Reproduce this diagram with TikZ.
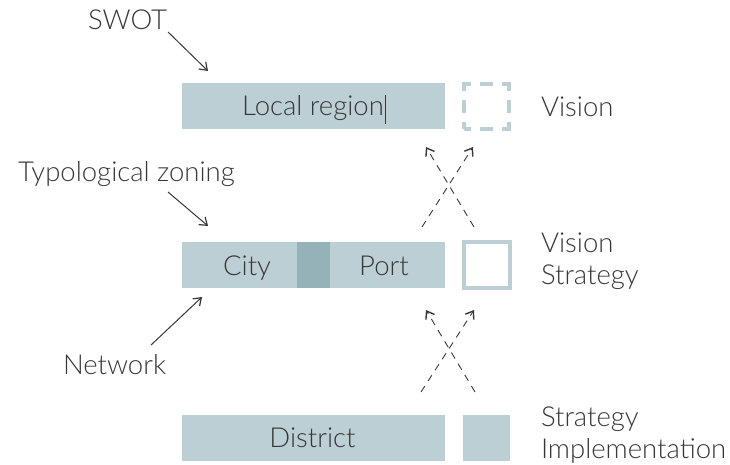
\documentclass[tikz,border=0pt]{standalone}
\usepackage{fontspec}
\setmainfont{Lato Light}
\usetikzlibrary{arrows.meta}
\definecolor{barfill}{RGB}{188,207,212}
\definecolor{bardark}{RGB}{148,178,183}
\definecolor{txt}{RGB}{55,55,55}
\begin{document}
\begin{tikzpicture}[x=1pt,y=-1pt,
  lbl/.style={inner sep=0pt,outer sep=0pt,text=txt,font=\fontsize{27.5}{31.5}\selectfont,anchor=base west,align=left},
  ctr/.style={lbl,anchor=base},
  bar/.style={fill=barfill,draw=none,inner sep=0pt,minimum width=263pt,minimum height=46pt},
  pointer/.style={draw=txt,line width=1pt,-{Straight Barb[length=7pt,width=10pt,line width=1.2pt]}},
  dashedarrow/.style={draw=txt,line width=0.9pt,dash pattern=on 7pt off 6pt,-{Straight Barb[length=7pt,width=10pt,line width=1.4pt]}}
]
\useasboundingbox (0,0) rectangle (730,465);
% bars
\node[bar] (local) at (313.5,106.5) {};
\node[bar] (mid) at (313.5,265) {};
\node[fill=bardark,inner sep=0pt,minimum width=33pt,minimum height=46pt] (zone) at (313.5,265) {};
\node[bar] (district) at (313.5,438) {};
% squares
\node[draw=barfill,line width=4pt,inner sep=0pt,minimum size=45pt,dash pattern=on 14pt off 9pt on 13pt off 9pt,dash phase=7pt] (visq) at (486.5,107) {};
\node[draw=barfill,line width=4pt,inner sep=0pt,minimum size=46pt] (stsq) at (487,265) {};
\node[fill=barfill,inner sep=0pt,minimum width=47pt,minimum height=46pt] (imsq) at (486.5,438) {};
% bar texts
\node[ctr] (tlocal) at (313,116) {Local region};
\draw[txt,line width=1.2pt] (tlocal.base east) ++(2,-21) coordinate (cur1) -- ++(0,29) coordinate (cur2);
\node[ctr] (tcity) at (247,275) {City};
\node[ctr] (tport) at (384,275) {Port};
\node[ctr] (tdistrict) at (312.5,447) {District};
% right labels
\node[lbl] (vision) at (541,117) {Vision};
\node[lbl] (visstrat) at (541,284) {Vision\\Strategy};
\node[lbl] (stratimpl) at (541,458) {Strategy\\Implementation};
% left labels
\node[lbl] (swot) at (88,30) {SWOT};
\node[lbl] (typo) at (18,182) {Typological zoning};
\node[lbl] (net) at (63,374) {Network};
% pointer arrows
\coordinate (swotA) at (168,32);
\coordinate (swotB) at (208,71);
\coordinate (typoA) at (168,192);
\coordinate (typoB) at (208,226);
\coordinate (netA) at (151,345);
\coordinate (netB) at (202,297);
\draw[pointer] (swotA) -- (swotB);
\draw[pointer] (typoA) -- (typoB);
\draw[pointer] (netA) -- (netB);
% dashed crossing arrows
\coordinate (u1) at (422,227); \coordinate (u2) at (473,147);
\coordinate (u3) at (474,227); \coordinate (u4) at (426,147);
\coordinate (l1) at (421,392); \coordinate (l2) at (474,310);
\coordinate (l3) at (475,392); \coordinate (l4) at (426,310);
\draw[dashedarrow] (u1) -- (u2);
\draw[dashedarrow] (u3) -- (u4);
\draw[dashedarrow] (l1) -- (l2);
\draw[dashedarrow] (l3) -- (l4);
\end{tikzpicture}
\end{document}
